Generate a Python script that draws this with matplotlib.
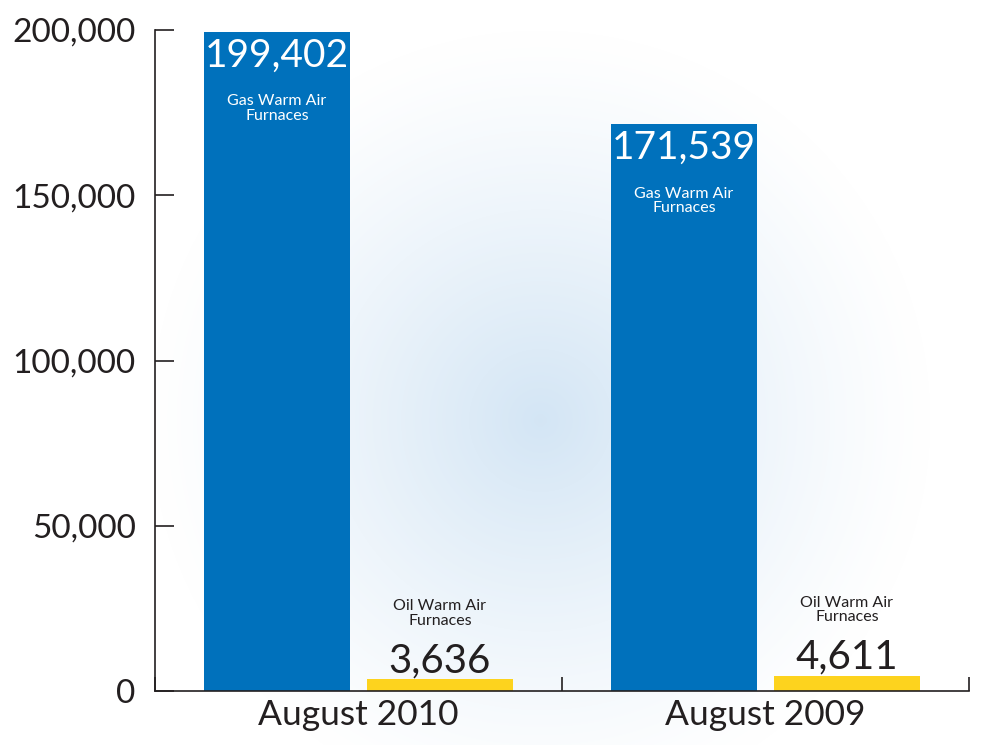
import matplotlib
matplotlib.use("Agg")
import matplotlib.pyplot as plt
import numpy as np

# data
periods = ["August 2010", "August 2009"]
gas_units = [199402, 171539]
oil_units = [3636, 4611]
gas_label = "Gas Warm Air\nFurnaces"
oil_label = "Oil Warm Air\nFurnaces"
yticks = [0, 50000, 100000, 150000, 200000]

blue = "#0071bc"
yellow = "#fdd31e"
ink = "#231f20"

plt.rcParams["font.family"] = ["Lato", "DejaVu Sans"]

fig = plt.figure(figsize=(9.81, 7.45), dpi=100)

# soft radial glow behind the chart
bg = fig.add_axes([0, 0, 1, 1], zorder=0)
W, H = 981, 745
yy, xx = np.mgrid[0:H, 0:W]
r = np.sqrt((xx - 540) ** 2 + (yy - 420) ** 2) / 390.0
glow = np.clip(1 - r, 0, 1) ** 1.2
c0 = np.array([1.0, 1.0, 1.0])
c1 = np.array([0.83, 0.90, 0.96])
img = c0[None, None, :] * (1 - glow[..., None]) + c1[None, None, :] * glow[..., None]
bg.imshow(img, extent=[0, W, H, 0], aspect="auto")
bg.axis("off")

ax = fig.add_axes([155 / W, 1 - 691 / H, (969 - 155) / W, (691 - 30) / H], zorder=1)
ax.patch.set_visible(False)

x = np.arange(len(periods))
width = 0.36
off = 0.2
gas_bars = ax.bar(x - off, gas_units, width, color=blue, zorder=2)
oil_bars = ax.bar(x + off, oil_units, width, color=yellow, zorder=2)

for b, v in zip(gas_bars, gas_units):
    cx = b.get_x() + b.get_width() / 2
    ax.annotate(f"{v:,}", (cx, v), xytext=(0, -4), textcoords="offset points",
                ha="center", va="top", color="white", fontsize=28)
    ax.annotate(gas_label, (cx, v), xytext=(0, -45), textcoords="offset points",
                ha="center", va="top", color="white", fontsize=11.5, linespacing=1.05)

for b, v in zip(oil_bars, oil_units):
    cx = b.get_x() + b.get_width() / 2
    ax.annotate(f"{v:,}", (cx, v), xytext=(0, 0), textcoords="offset points",
                ha="center", va="bottom", color=ink, fontsize=29)
    ax.annotate(oil_label, (cx, v), xytext=(0, 37), textcoords="offset points",
                ha="center", va="bottom", color=ink, fontsize=11.5, linespacing=1.05)

ax.set_xlim(-0.5, len(periods) - 0.5)
ax.set_ylim(0, 200000)
ax.set_yticks(yticks)
ax.set_yticklabels([f"{t:,}" for t in yticks])
ax.set_xticks(x)
ax.set_xticklabels(periods)
ax.set_xticks(np.arange(len(periods) + 1) - 0.5, minor=True)

for s in ["top", "right"]:
    ax.spines[s].set_visible(False)
for s in ["left", "bottom"]:
    ax.spines[s].set_color(ink)
    ax.spines[s].set_linewidth(1.2)

ax.tick_params(axis="y", direction="in", length=14, width=1.2, color=ink,
               labelsize=24, labelcolor=ink, pad=14)
ax.tick_params(axis="x", which="major", length=0, labelsize=25.5, labelcolor=ink, pad=6)
ax.tick_params(axis="x", which="minor", direction="in", length=10, width=1.2, color=ink)

fig.savefig("out.png", dpi=100)
